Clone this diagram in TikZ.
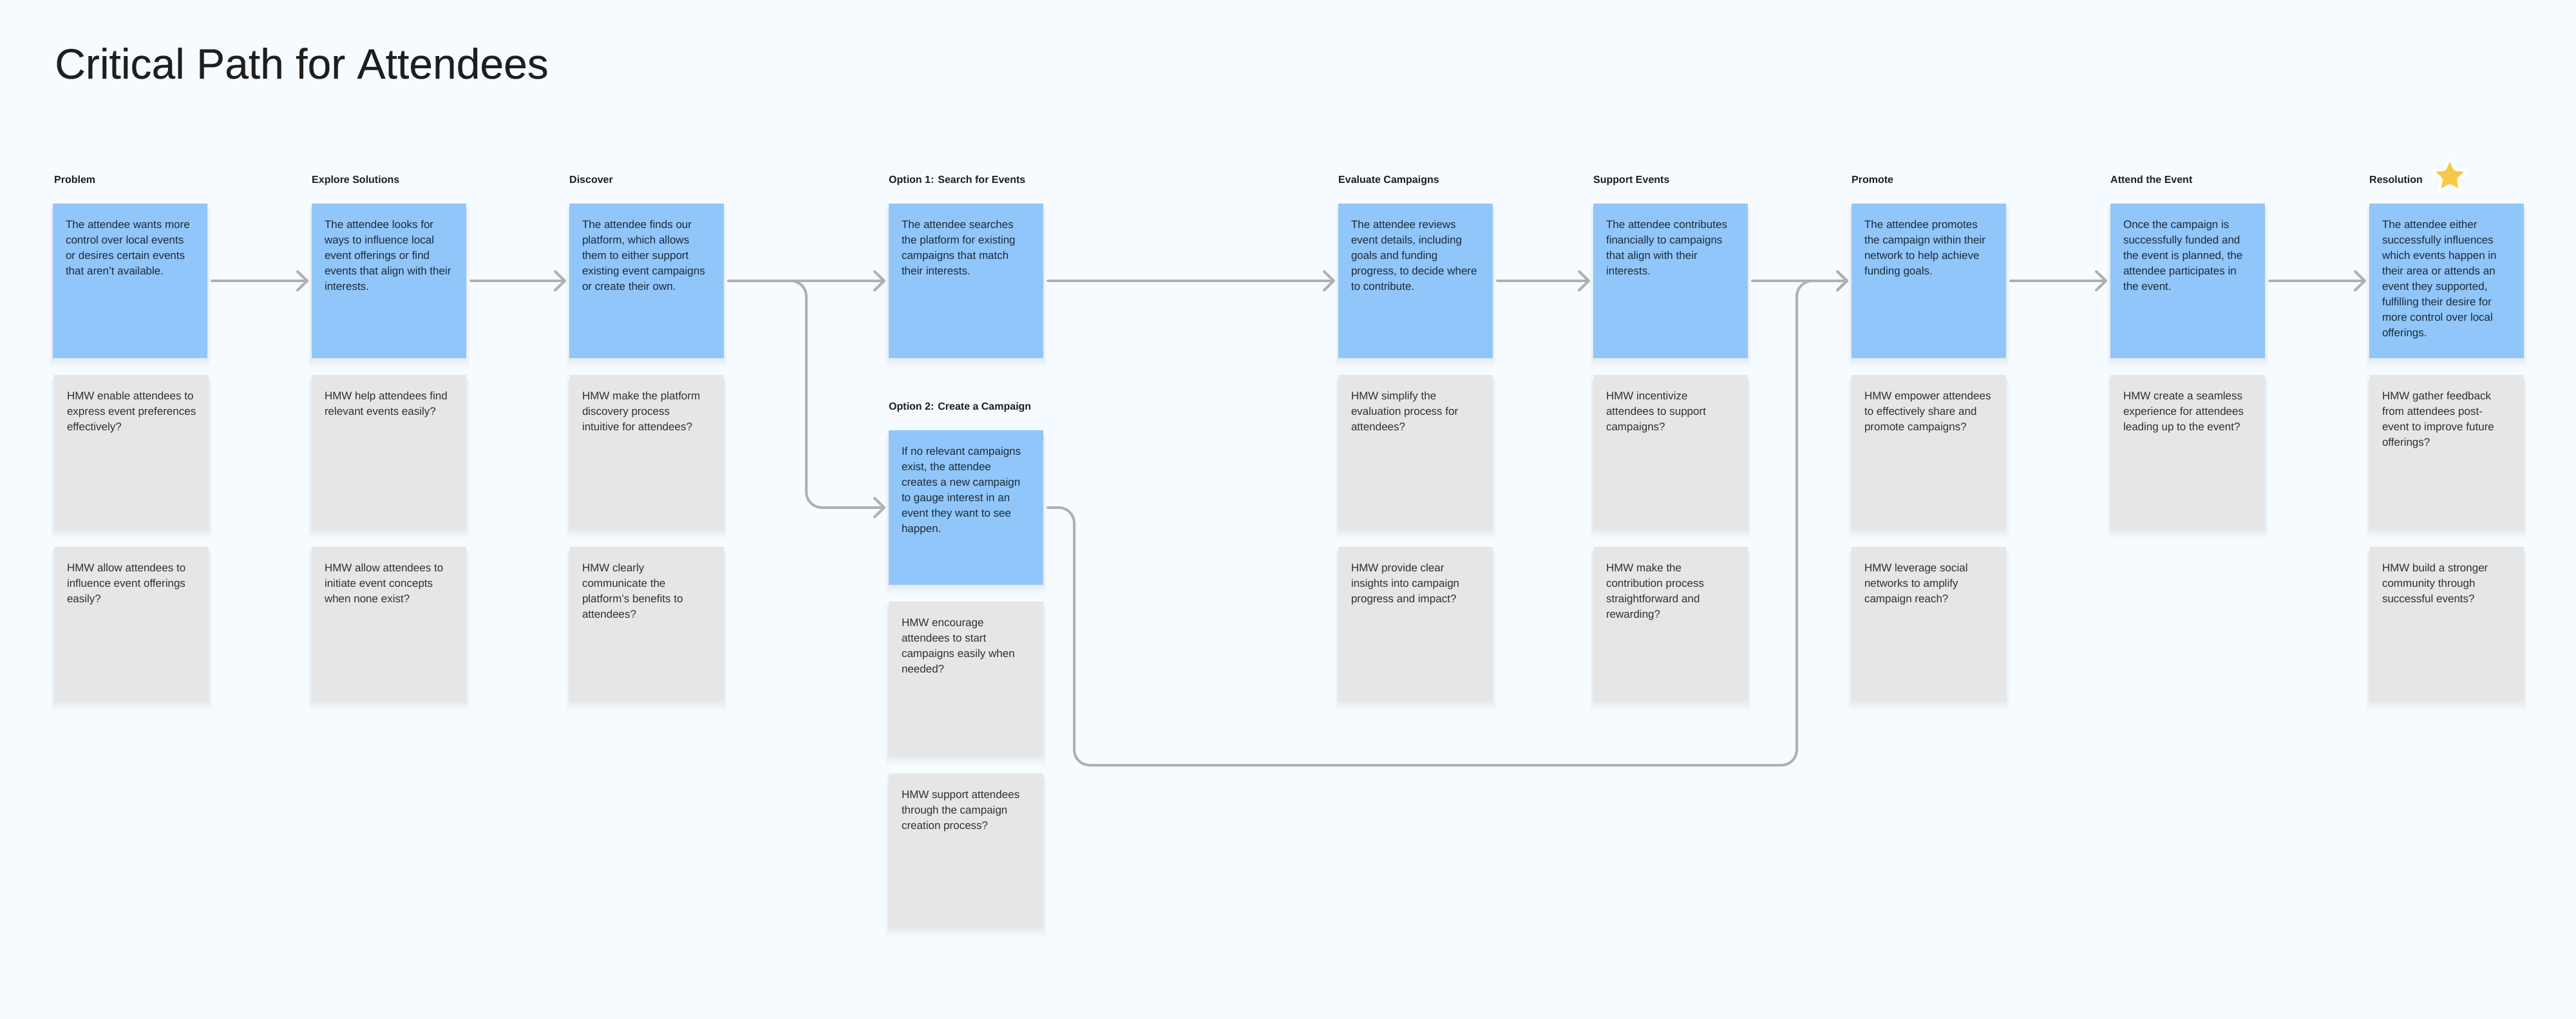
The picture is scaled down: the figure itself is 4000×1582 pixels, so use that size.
\documentclass[tikz,border=0pt]{standalone}
\usepackage{fontspec}
\setmainfont{Liberation Sans}
\newfontfamily\titlefont[FakeBold=0.12]{Liberation Sans}
\usetikzlibrary{arrows.meta,shapes.geometric}
\definecolor{pagebg}{HTML}{F6FBFF}
\definecolor{blueCard}{HTML}{90C6FA}
\definecolor{greyCard}{HTML}{E6E6E6}
\definecolor{lineGrey}{HTML}{B0B0B0}
\definecolor{inkDark}{HTML}{1E1E1E}
\definecolor{inkBlue}{HTML}{1E2A36}
\definecolor{inkGrey}{HTML}{303030}
\definecolor{starYellow}{HTML}{F7C948}
\tikzset{
  cardbase/.style={anchor=north west,inner sep=0pt,outer sep=0pt,minimum width=240pt,minimum height=240pt},
  bluecard/.style={cardbase,fill=blueCard,text=inkBlue},
  greycard/.style={cardbase,fill=greyCard,text=inkGrey},
  heading/.style={anchor=base west,inner sep=0pt,text=inkDark,font=\fontsize{16}{20}\selectfont\bfseries},
  conn/.style={draw=lineGrey,line width=4pt,line cap=round,line join=round,shorten <=7pt,shorten >=5pt},
  tipped/.style={-{Straight Barb[length=15pt,width=29pt,line width=4pt,round]}},
  softbend/.style={rounded corners=24pt}
}
\newcommand{\stickycard}[5]{%
  \foreach \s in {1,...,8}{\fill[black,opacity=.009] (#2-.6*\s,-#3-6) rectangle (#2+240+.6*\s,-#3-240-1.7*\s);}
  \node[#4] (#1) at (#2,-#3) {\parbox[c][240pt][t]{240pt}{\leftskip=20pt\rightskip=0pt plus 1fil\parindent=0pt\fontsize{17}{24}\selectfont\rule{0pt}{38pt}#5\par}};
}
\begin{document}
\begin{tikzpicture}[x=1pt,y=1pt]
\useasboundingbox (0,0) rectangle (4000,-1582);
\fill[pagebg] (0,0) rectangle (4000,-1582);
\node[anchor=base west,inner sep=0pt,text=inkDark,font=\fontsize{66}{70}\titlefont] (title) at (85,-122) {Critical Path for Attendees};

\node[heading] (h1) at (84,-284) {Problem};
\node[heading] (h2) at (484,-284) {Explore Solutions};
\node[heading] (h3) at (884,-284) {Discover};
\node[heading] (h4) at (1380,-284) {Option 1: Search for Events};
\node[heading] (h4b) at (1380,-636) {Option 2: Create a Campaign};
\node[heading] (h5) at (2078,-284) {Evaluate Campaigns};
\node[heading] (h6) at (2474,-284) {Support Events};
\node[heading] (h7) at (2875,-284) {Promote};
\node[heading] (h8) at (3277,-284) {Attend the Event};
\node[heading] (h9) at (3679,-284) {Resolution};
\node[star,star points=5,star point ratio=2.1,minimum size=56pt,inner sep=0pt,fill=starYellow,draw=white,line width=4pt,rounded corners=2.5pt] (star) at (3804,-274) {};

\stickycard{a1}{82}{316}{bluecard}{The attendee wants more\\control over local events\\or desires certain events\\that aren’t available.}
\stickycard{a2}{484}{316}{bluecard}{The attendee looks for\\ways to influence local\\event offerings or find\\events that align with their\\interests.}
\stickycard{a3}{884}{316}{bluecard}{The attendee finds our\\platform, which allows\\them to either support\\existing event campaigns\\or create their own.}
\stickycard{a4}{1380}{316}{bluecard}{The attendee searches\\the platform for existing\\campaigns that match\\their interests.}
\stickycard{c4}{1380}{668}{bluecard}{If no relevant campaigns\\exist, the attendee\\creates a new campaign\\to gauge interest in an\\event they want to see\\happen.}
\stickycard{a5}{2078}{316}{bluecard}{The attendee reviews\\event details, including\\goals and funding\\progress, to decide where\\to contribute.}
\stickycard{a6}{2474}{316}{bluecard}{The attendee contributes\\financially to campaigns\\that align with their\\interests.}
\stickycard{a7}{2875}{316}{bluecard}{The attendee promotes\\the campaign within their\\network to help achieve\\funding goals.}
\stickycard{a8}{3277}{316}{bluecard}{Once the campaign is\\successfully funded and\\the event is planned, the\\attendee participates in\\the event.}
\stickycard{a9}{3679}{316}{bluecard}{The attendee either\\successfully influences\\which events happen in\\their area or attends an\\event they supported,\\fulfilling their desire for\\more control over local\\offerings.}

\stickycard{g11}{84}{582}{greycard}{HMW enable attendees to\\express event preferences\\effectively?}
\stickycard{g12}{84}{849}{greycard}{HMW allow attendees to\\influence event offerings\\easily?}
\stickycard{g21}{484}{582}{greycard}{HMW help attendees find\\relevant events easily?}
\stickycard{g22}{484}{849}{greycard}{HMW allow attendees to\\initiate event concepts\\when none exist?}
\stickycard{g31}{884}{582}{greycard}{HMW make the platform\\discovery process\\intuitive for attendees?}
\stickycard{g32}{884}{849}{greycard}{HMW clearly\\communicate the\\platform’s benefits to\\attendees?}
\stickycard{g41}{1380}{934}{greycard}{HMW encourage\\attendees to start\\campaigns easily when\\needed?}
\stickycard{g42}{1380}{1201}{greycard}{HMW support attendees\\through the campaign\\creation process?}
\stickycard{g51}{2078}{582}{greycard}{HMW simplify the\\evaluation process for\\attendees?}
\stickycard{g52}{2078}{849}{greycard}{HMW provide clear\\insights into campaign\\progress and impact?}
\stickycard{g61}{2474}{582}{greycard}{HMW incentivize\\attendees to support\\campaigns?}
\stickycard{g62}{2474}{849}{greycard}{HMW make the\\contribution process\\straightforward and\\rewarding?}
\stickycard{g71}{2875}{582}{greycard}{HMW empower attendees\\to effectively share and\\promote campaigns?}
\stickycard{g72}{2875}{849}{greycard}{HMW leverage social\\networks to amplify\\campaign reach?}
\stickycard{g81}{3277}{582}{greycard}{HMW create a seamless\\experience for attendees\\leading up to the event?}
\stickycard{g91}{3679}{582}{greycard}{HMW gather feedback\\from attendees post-\\event to improve future\\offerings?}
\stickycard{g92}{3679}{849}{greycard}{HMW build a stronger\\community through\\successful events?}

\coordinate (splitTop) at (1252,-436);
\coordinate (splitBot) at (1252,-788);
\coordinate (backTop) at (1668,-788);
\coordinate (backBot) at (1668,-1188);
\coordinate (joinBot) at (2790,-1188);
\coordinate (joinTop) at (2790,-436);

\draw[conn,tipped] (a1.east) -- (a2.west);
\draw[conn,tipped] (a2.east) -- (a3.west);
\draw[conn,tipped] (a3.east) -- (a4.west);
\draw[conn,tipped] (a4.east) -- (a5.west);
\draw[conn,tipped] (a5.east) -- (a6.west);
\draw[conn,tipped] (a6.east) -- (a7.west);
\draw[conn,tipped] (a7.east) -- (a8.west);
\draw[conn,tipped] (a8.east) -- (a9.west);
\draw[conn,tipped,softbend] (a3.east) -- (splitTop) -- (splitBot) -- (c4.west);
\draw[conn,tipped,softbend] (c4.east) -- (backTop) -- (backBot) -- (joinBot) -- (joinTop) -- (a7.west);
\end{tikzpicture}
\end{document}
